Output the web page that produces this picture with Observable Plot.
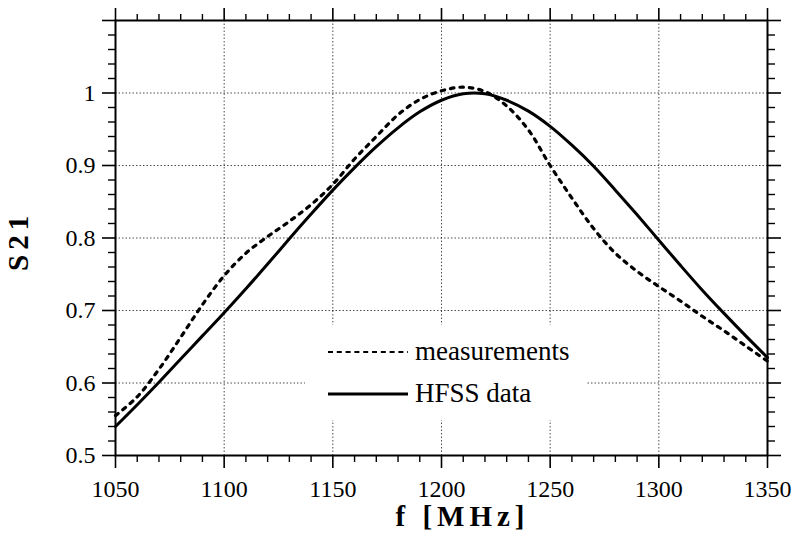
<!DOCTYPE html>
<html>
<head>
<meta charset="utf-8">
<script src="https://cdn.jsdelivr.net/npm/d3@7"></script>
<script src="https://cdn.jsdelivr.net/npm/@observablehq/plot@0.6"></script>
<style>
  html, body { margin: 0; padding: 0; background: #fff; }
  #wrap { position: relative; width: 801px; height: 540px; }
  #legend { position: absolute; left: 305px; top: 325px; width: 282px; height: 95px; background: #fff; }
</style>
</head>
<body>
<div id="wrap"><div id="chart"></div><div id="legend"></div></div>
<script>
// ---- data ----
const freq = [1050,1060,1070,1080,1090,1100,1110,1120,1130,1140,1150,1160,1170,1180,1190,1200,1210,1220,1230,1240,1250,1260,1270,1280,1290,1300,1310,1320,1330,1340,1350];
const hfss = [0.540,0.570,0.601,0.633,0.665,0.697,0.730,0.764,0.799,0.833,0.866,0.897,0.926,0.952,0.974,0.990,0.999,0.999,0.990,0.975,0.954,0.928,0.899,0.866,0.832,0.797,0.762,0.728,0.696,0.665,0.635];
const meas = [0.555,0.581,0.619,0.663,0.708,0.748,0.779,0.802,0.823,0.846,0.874,0.909,0.940,0.970,0.991,1.003,1.008,1.002,0.982,0.949,0.900,0.855,0.813,0.779,0.754,0.733,0.713,0.692,0.672,0.651,0.630];
const xMajor = [1050,1100,1150,1200,1250,1300,1350];
const xMinor = [1060,1070,1080,1090,1110,1120,1130,1140,1160,1170,1180,1190,1210,1220,1230,1240,1260,1270,1280,1290,1310,1320,1330,1340];
const yMajor = [0.5,0.6,0.7,0.8,0.9,1.0,1.1];
const yLabels = ["0.5","0.6","0.7","0.8","0.9","1",""];
const yMinor = [0.52,0.54,0.56,0.58,0.62,0.64,0.66,0.68,0.72,0.74,0.76,0.78,0.82,0.84,0.86,0.88,0.92,0.94,0.96,0.98,1.02,1.04,1.06,1.08];
const seriesNames = ["measurements","HFSS data"];
const xTitle = "f\u00a0[MHz]";
const yTitle = "S21";

const rowsH = freq.map((f,i) => ({f, v: hfss[i]}));
const rowsM = freq.map((f,i) => ({f, v: meas[i]}));
const fmtY = d => yLabels[yMajor.findIndex(t => Math.abs(t - d) < 1e-9)] ?? "";
const serif = "'Liberation Serif', 'Times New Roman', serif";

const chart = Plot.plot({
  width: 801, height: 540,
  marginLeft: 115, marginRight: 34, marginTop: 20, marginBottom: 85,
  x: {domain: [1050, 1350]},
  y: {domain: [0.5, 1.1]},
  style: {fontFamily: serif, fontSize: "24px", color: "#000", background: "#fff"},
  marks: [
    Plot.gridX(xMajor.slice(1, -1), {stroke: "#000", strokeOpacity: 0.7, strokeWidth: 1, strokeDasharray: "1.5,2"}),
    Plot.gridY(yMajor.slice(1, -1), {stroke: "#000", strokeOpacity: 0.7, strokeWidth: 1, strokeDasharray: "1.5,2"}),
    Plot.line(rowsH, {x: "f", y: "v", stroke: "#000", strokeWidth: 3, curve: "catmull-rom"}),
    Plot.line(rowsM, {x: "f", y: "v", stroke: "#000", strokeWidth: 3.2, strokeDasharray: "3.5,6", curve: "catmull-rom"}),
    Plot.frame({stroke: "#000", strokeWidth: 2}),
    Plot.axisX(xMajor, {anchor: "bottom", tickSize: 13, tickPadding: 11, strokeWidth: 1.6, label: null, fontSize: 24, tickFormat: d => String(d)}),
    Plot.axisX(xMinor, {anchor: "bottom", tickSize: 7, strokeWidth: 1.4, label: null, tickFormat: () => ""}),
    Plot.axisX(xMajor, {anchor: "top", tickSize: 13, strokeWidth: 1.6, label: null, tickFormat: () => ""}),
    Plot.axisX(xMinor, {anchor: "top", tickSize: 7, strokeWidth: 1.4, label: null, tickFormat: () => ""}),
    Plot.axisY(yMajor, {anchor: "left", tickSize: 13, tickPadding: 7, strokeWidth: 1.6, label: null, fontSize: 24, tickFormat: fmtY}),
    Plot.axisY(yMinor, {anchor: "left", tickSize: 7, strokeWidth: 1.4, label: null, tickFormat: () => ""}),
    Plot.axisY(yMajor, {anchor: "right", tickSize: 13, strokeWidth: 1.6, label: null, tickFormat: () => ""}),
    Plot.axisY(yMinor, {anchor: "right", tickSize: 7, strokeWidth: 1.4, label: null, tickFormat: () => ""}),
    Plot.text([xTitle], {frameAnchor: "bottom", dy: 70, dx: 21, fontSize: 29, fontWeight: "bold", className: "atitle"}),
    Plot.text([yTitle], {frameAnchor: "left", dx: -97, dy: 33, rotate: -90, fontSize: 29, fontWeight: "bold", className: "atitle"})
  ]
});
document.getElementById("chart").append(chart);
d3.select(chart).selectAll(".atitle text").style("letter-spacing", "5px");

// legend
const lg = d3.select("#legend").append("svg").attr("width", 282).attr("height", 95)
  .style("font-family", serif);
lg.append("line").attr("x1", 23).attr("x2", 103).attr("y1", 27).attr("y2", 27)
  .attr("stroke", "#000").attr("stroke-width", 2).attr("stroke-dasharray", "5,3.8");
lg.append("text").attr("x", 110).attr("y", 35).attr("font-size", 27).text(seriesNames[0]);
lg.append("line").attr("x1", 23).attr("x2", 103).attr("y1", 69).attr("y2", 69)
  .attr("stroke", "#000").attr("stroke-width", 3);
lg.append("text").attr("x", 110).attr("y", 77).attr("font-size", 27).text(seriesNames[1]);
</script>
</body>
</html>
